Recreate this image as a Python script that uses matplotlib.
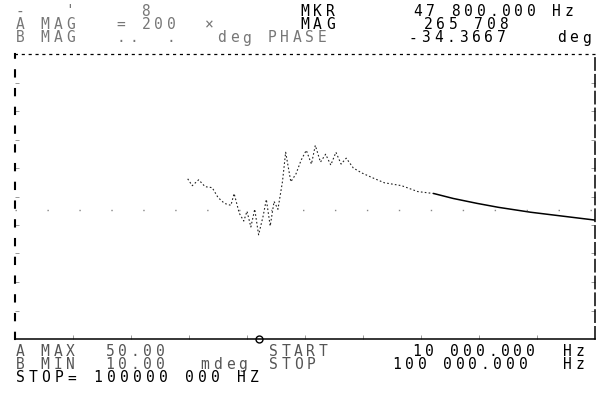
import numpy as np
import matplotlib
matplotlib.use("Agg")
import matplotlib.pyplot as plt

# phase trace, B channel (MHz / deg)
freq_noisy = [36.8, 37.5, 38.5, 39.5, 40.6, 41.5, 42.5, 43.5, 44.0, 44.8,
              45.5, 46.0, 46.6, 47.2, 47.8, 48.5, 49.0, 49.6, 50.2, 50.8,
              51.5, 52.0, 52.8, 53.6, 54.4, 55.2, 56.0, 56.6, 57.4, 58.2,
              59.0, 59.8, 60.6, 61.4, 62.5, 63.8, 65.5, 67.3, 70.0, 72.5, 75.0]
phase_noisy = [-28.7, -29.4, -28.8, -29.5, -29.6, -30.6, -31.2, -31.4, -30.2, -32.2,
               -33.0, -32.0, -33.6, -31.8, -34.4, -32.5, -30.8, -33.5, -31.0, -31.8,
               -29.0, -26.0, -29.0, -28.2, -26.8, -25.8, -27.2, -25.3, -27.0, -26.2,
               -27.3, -26.0, -27.2, -26.6, -27.6, -28.1, -28.6, -29.1, -29.4, -30.0, -30.2]
freq_smooth = [75.0, 78.0, 81.7, 85.0, 90.0, 95.0, 100.0]
phase_smooth = [-30.2, -30.7, -31.2, -31.6, -32.1, -32.5, -32.9]

mkr_freq = 47.8
center_phase = -31.9

header_left = [("-", 15, 11), ("'", 65, 11), ("8", 141, 11),
               ("A MAG   = 200  \u00d7", 15, 24.5),
               ("B MAG   ..  .   deg PHASE", 15, 38)]
header_right = [("MKR", 300, 11), ("47 800.000 Hz", 413, 11),
                ("MAG", 300, 24.5), ("265 708", 423, 24.5),
                ("-34.3667", 408, 38), ("deg", 556, 38)]
footer = [("A MAX", 15, 351), ("50.00", 105, 351), ("START", 268, 351),
          ("10 000.000", 412, 351), ("Hz", 562, 351),
          ("B MIN", 15, 364.5), ("10.00", 105, 364.5), ("mdeg", 200, 364.5),
          ("STOP", 268, 364.5), ("100 000.000", 392, 364.5), ("Hz", 562, 364.5),
          ("STOP= 100000 000 HZ", 15, 378)]

W, H = 603, 400
fig = plt.figure(figsize=(W / 100, H / 100), dpi=100)
fig.patch.set_facecolor("white")

left, right, top, bottom = 15, 595, 54, 339
ax = fig.add_axes([left / W, 1 - bottom / H, (right - left) / W, (bottom - top) / H])
ax.set_xlim(10, 100)
ax.set_ylim(-45, -16)

ax.plot(freq_noisy, phase_noisy, color="#222222", lw=0.8, ls=(0, (1.5, 2)))
ax.plot(freq_smooth, phase_smooth, color="black", lw=1.1)
ax.axhline(center_phase, color="#888888", lw=1, ls=(0, (1, 22)))
ax.plot([mkr_freq], [-45], marker="o", ms=5, mfc="white", mec="black",
        mew=1, clip_on=False)

ax.set_xticks(np.linspace(10, 100, 11)[1:-1])
ax.set_yticks(np.linspace(-45, -16, 11)[1:-1])
ax.tick_params(direction="in", length=3, width=0.7, color="#999999",
               labelbottom=False, labelleft=False, right=True)

ax.spines["top"].set_linestyle((0, (1.5, 4)))
ax.spines["top"].set_linewidth(0.9)
ax.spines["left"].set_linestyle((0, (3, 6)))
ax.spines["left"].set_linewidth(1.5)
ax.spines["right"].set_linestyle((0, (8, 3)))
ax.spines["right"].set_linewidth(1.1)
ax.spines["bottom"].set_linewidth(1.1)


def put(s, x, y, pitch=12.6, color="black"):
    # fixed-pitch plotter text
    for i, ch in enumerate(s):
        if ch == " ":
            continue
        fig.text((x + pitch * i + 5) / W, 1 - y / H, ch, fontsize=10.5,
                 family="DejaVu Sans Mono", ha="center", va="center",
                 color=color)


for s, x, y in header_left:
    put(s, x, y, color="#777777")
for s, x, y in header_right:
    put(s, x, y)
for s, x, y in footer:
    put(s, x, y, pitch=13 if s.startswith("STOP=") else 12.6,
        color="black" if s.startswith("STOP=") or x > 380 else "#555555")

fig.savefig("out.png", dpi=100)
